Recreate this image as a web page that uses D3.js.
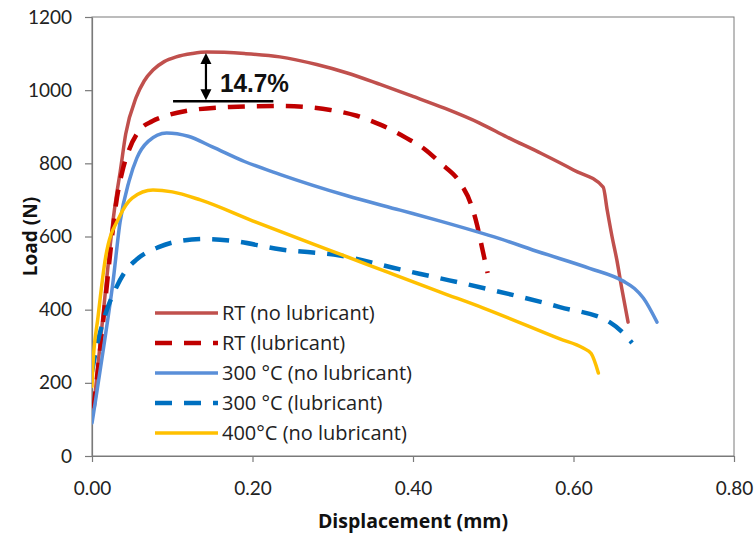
<!DOCTYPE html>
<html><head><meta charset="utf-8">
<script src="https://cdn.jsdelivr.net/npm/d3@7"></script>
<style>
html,body{margin:0;padding:0;background:#fff;}
svg{display:block;}
</style></head>
<body>
<svg id="chart" width="756" height="536"></svg>
<script>
// ---------------- DATA ----------------
const xTicks = [0, 0.2, 0.4, 0.6, 0.8];
const yTicks = [0, 200, 400, 600, 800, 1000, 1200];

const seriesNames = ["RT (no lubricant)", "RT (lubricant)", "300 °C (no lubricant)", "300 °C (lubricant)", "400°C (no lubricant)"];

// [displacement (mm), load (N)]
const rtNoLub = [[0.002,130],[0.008,260],[0.014,390],[0.02,520],[0.026,640],[0.031,720],[0.035,775],[0.042,880],[0.055,980],[0.065,1025],[0.076,1055],[0.09,1078],[0.105,1091],[0.125,1100],[0.143,1104],[0.19,1100],[0.234,1091],[0.28,1070],[0.318,1047],[0.36,1015],[0.40,983],[0.44,950],[0.483,910],[0.517,872],[0.56,827],[0.60,782],[0.637,735],[0.642,672],[0.648,600],[0.654,536],[0.66,460],[0.668,366]];
const rtLub = [[0.002,130],[0.008,250],[0.014,370],[0.022,540],[0.03,690],[0.038,780],[0.046,836],[0.059,890],[0.075,915],[0.088,927],[0.117,943],[0.172,954],[0.234,957],[0.297,946],[0.33,930],[0.36,905],[0.392,869],[0.415,838],[0.434,801],[0.459,746],[0.472,690],[0.48,630],[0.486,570],[0.493,500]];
const c300NoLub = [[0,90],[0.005,160],[0.014,290],[0.026,473],[0.035,640],[0.046,750],[0.056,815],[0.07,860],[0.093,883],[0.12,874],[0.15,845],[0.19,805],[0.234,770],[0.317,712],[0.384,672],[0.434,642],[0.508,594],[0.558,557],[0.62,513],[0.662,478],[0.676,458],[0.687,432],[0.704,366]];
const c300Lub = [[0,230],[0.005,290],[0.017,390],[0.028,450],[0.04,500],[0.055,536],[0.083,571],[0.11,588],[0.14,593],[0.175,588],[0.234,565],[0.309,548],[0.384,510],[0.425,490],[0.496,455],[0.583,407],[0.645,366],[0.662,336],[0.673,309]];
const c400NoLub = [[0,190],[0.001,243],[0.0075,380],[0.017,544],[0.034,653],[0.05,705],[0.076,727],[0.1,722],[0.135,700],[0.2,643],[0.275,580],[0.309,552],[0.37,501],[0.434,448],[0.487,405],[0.583,320],[0.612,295],[0.622,280],[0.631,227]];

// annotation values
const annoLabel = "14.7%";
const annoPeak = 1104, annoRef = 970, annoX = 0.142;
const annoLineX = [0.101, 0.226];

// ---------------- STYLES ----------------
const styles = [
  {color:"#C0504D", width:3.5, dash:null},
  {color:"#C00000", width:4.5, dash:"17,12"},
  {color:"#5A8FD8", width:3.5, dash:null},
  {color:"#0070C0", width:4.5, dash:"17,12"},
  {color:"#FFC000", width:3.5, dash:null}
];
const seriesData = [rtNoLub, rtLub, c300NoLub, c300Lub, c400NoLub];

// ---------------- CHART ----------------
const svg = d3.select("#chart");
const W = 756, H = 536;
const m = {left:92, top:17, right:22, bottom:80};
const pw = W - m.left - m.right, ph = H - m.top - m.bottom;

const x = d3.scaleLinear().domain([0,0.8]).range([m.left, m.left+pw]);
const y = d3.scaleLinear().domain([0,1200]).range([m.top+ph, m.top]);

const axisColor = "#7a7a7a";
const fontTick = "Lato, 'Open Sans', sans-serif";
const fontText = "'Open Sans', Lato, sans-serif";

// border (top & right)
svg.append("rect").attr("x", m.left).attr("y", m.top).attr("width", pw).attr("height", ph)
  .attr("fill","none").attr("stroke", axisColor).attr("stroke-width",1);

// axes
const gx = svg.append("g").attr("transform", `translate(0,${m.top+ph})`)
  .call(d3.axisBottom(x).tickValues(xTicks).tickFormat(d3.format(".2f")).tickSize(6).tickPadding(20).tickSizeOuter(0));
const gy = svg.append("g").attr("transform", `translate(${m.left},0)`)
  .call(d3.axisLeft(y).tickValues(yTicks).tickFormat(d3.format("d")).tickSize(7).tickPadding(13).tickSizeOuter(0));
[gx, gy].forEach(g => {
  g.select(".domain").attr("stroke", axisColor).attr("stroke-width",1.2);
  g.selectAll(".tick line").attr("stroke", axisColor).attr("stroke-width",1.2);
  g.selectAll(".tick text").attr("fill","#222").style("font-family", fontTick).style("font-size","19px");
});

// axis titles
svg.append("text").attr("x", m.left + pw/2).attr("y", 528).attr("text-anchor","middle")
  .style("font-family", fontText).style("font-weight","bold").style("font-size","19.5px").attr("fill","#111")
  .text("Displacement (mm)");
svg.append("text").attr("transform", `translate(37,${m.top+ph/2}) rotate(-90)`).attr("text-anchor","middle")
  .style("font-family", fontText).style("font-weight","bold").style("font-size","19px").attr("fill","#111")
  .text("Load (N)");

// clip
svg.append("clipPath").attr("id","clip").append("rect")
  .attr("x", m.left).attr("y", m.top).attr("width", pw).attr("height", ph);

const line = d3.line().x(d => x(d[0])).y(d => y(d[1])).curve(d3.curveMonotoneX);

const gLines = svg.append("g").attr("clip-path","url(#clip)");
seriesData.forEach((data, i) => {
  const s = styles[i];
  gLines.append("path").datum(data).attr("d", line)
    .attr("fill","none").attr("stroke", s.color).attr("stroke-width", s.width)
    .attr("stroke-dasharray", s.dash).attr("stroke-linejoin","round").attr("stroke-linecap", s.dash ? "butt" : "round");
});

// annotation
svg.append("line").attr("x1", x(annoLineX[0])).attr("x2", x(annoLineX[1]))
  .attr("y1", y(annoRef)).attr("y2", y(annoRef)).attr("stroke","#000").attr("stroke-width",2.5);
const ax = x(annoX), ay1 = y(annoPeak)+1, ay2 = y(annoRef)-1;
svg.append("line").attr("x1", ax).attr("x2", ax).attr("y1", ay1+8).attr("y2", ay2-8)
  .attr("stroke","#000").attr("stroke-width",2.2);
svg.append("path").attr("d", `M${ax},${ay1} L${ax-5.5},${ay1+11} L${ax+5.5},${ay1+11} Z`).attr("fill","#000");
svg.append("path").attr("d", `M${ax},${ay2} L${ax-5.5},${ay2-11} L${ax+5.5},${ay2-11} Z`).attr("fill","#000");
svg.append("text").attr("x", 220).attr("y", 92)
  .style("font-family","'Liberation Sans', Arial, sans-serif").style("font-weight","bold").style("font-size","26px")
  .attr("textLength", 69).attr("lengthAdjust","spacingAndGlyphs").attr("fill","#111").text(annoLabel);

// legend
const legX1 = 155, legX2 = 218, legY0 = 313, legDy = 30;
const leg = svg.append("g");
seriesNames.forEach((name, i) => {
  const s = styles[i];
  const yy = legY0 + i*legDy;
  leg.append("line").attr("x1", legX1).attr("x2", legX2).attr("y1", yy).attr("y2", yy)
    .attr("stroke", s.color).attr("stroke-width", s.width).attr("stroke-dasharray", s.dash);
  leg.append("text").attr("x", legX2 + 4).attr("y", yy).attr("dy","0.35em")
    .style("font-family", fontText).style("font-size","20px").attr("fill","#222").text(name);
});
</script>
</body></html>
